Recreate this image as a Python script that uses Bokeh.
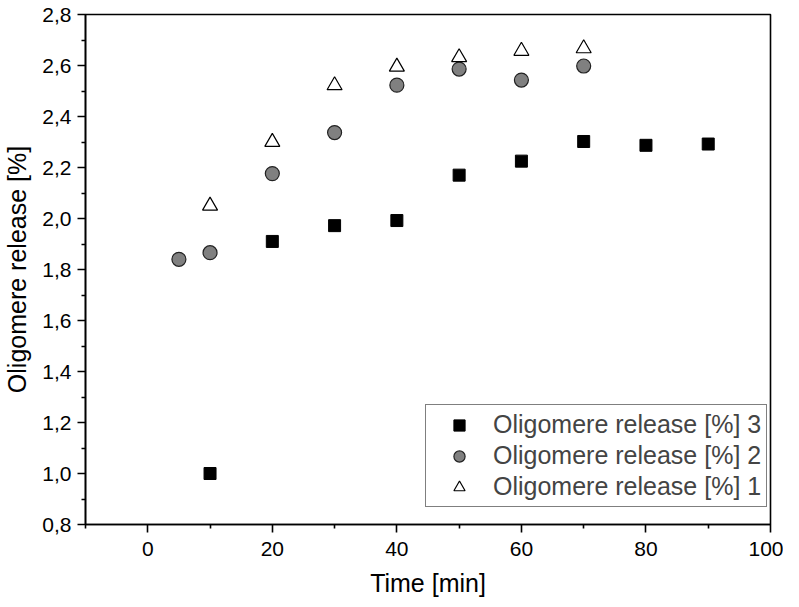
from bokeh.plotting import figure
from bokeh.models import FixedTicker, Range1d, Legend, LegendItem
from bokeh.embed import file_html
from bokeh.resources import INLINE

# Data
x3 = [10, 20, 30, 40, 50, 60, 70, 80, 90]
y3 = [1.0, 1.91, 1.972, 1.992, 2.17, 2.225, 2.302, 2.287, 2.292]
x2 = [5, 10, 20, 30, 40, 50, 60, 70]
y2 = [1.84, 1.866, 2.176, 2.337, 2.523, 2.586, 2.543, 2.598]
x1 = [10, 20, 30, 40, 50, 60, 70]
y1 = [2.05, 2.30, 2.522, 2.595, 2.632, 2.657, 2.667]
names = ["Oligomere release [%] 3", "Oligomere release [%] 2", "Oligomere release [%] 1"]
yticks = [0.8, 1.0, 1.2, 1.4, 1.6, 1.8, 2.0, 2.2, 2.4, 2.6, 2.8]
xticks = [0, 20, 40, 60, 80, 100]

FONT = "Liberation Sans"

p = figure(width=783, height=599, output_backend="svg", toolbar_location=None,
           x_range=Range1d(-10, 100), y_range=Range1d(0.8, 2.8),
           min_border_left=79, min_border_top=14, min_border_right=13, min_border_bottom=75)
p.grid.visible = False
p.outline_line_color = "black"
p.outline_line_width = 1.6

p.xaxis.ticker = FixedTicker(ticks=xticks, minor_ticks=[-10, 10, 30, 50, 70, 90])
p.yaxis.ticker = FixedTicker(ticks=yticks, minor_ticks=[0.9 + 0.2 * i for i in range(10)])
p.yaxis.major_label_overrides = {t: f"{t:.1f}".replace(".", ",") for t in yticks}
p.xaxis.major_label_overrides = {t: str(t) for t in xticks}

for ax in (p.xaxis[0], p.yaxis[0]):
    ax.axis_line_width = 1.6
    ax.major_tick_line_width = 1.6
    ax.minor_tick_line_width = 1.6
    ax.major_tick_out = 8
    ax.major_tick_in = 0
    ax.minor_tick_out = 4
    ax.minor_tick_in = 0
    ax.major_label_text_font = FONT
    ax.major_label_text_font_size = "21px"
    ax.major_label_text_color = "black"
    ax.axis_label_text_font = FONT
    ax.axis_label_text_font_size = "25px"
    ax.axis_label_text_font_style = "normal"
    ax.axis_label_text_color = "black"

p.xaxis.axis_label = "Time [min]"
p.yaxis.axis_label = "Oligomere release [%]"
p.xaxis.major_label_standoff = 9
p.yaxis.major_label_standoff = 6
p.xaxis.axis_label_standoff = 10
p.yaxis.axis_label_standoff = 8

r3 = p.scatter(x3, y3, marker="square", size=12, fill_color="black", line_color="black")
r2 = p.scatter(x2, y2, marker="circle", size=14, fill_color="#808080", line_color="#222222", line_width=1.2)
r1 = p.scatter(x1, y1, marker="triangle", size=15, fill_color="white", line_color="black", line_width=1.2)

legend = Legend(items=[LegendItem(label=names[0], renderers=[r3]),
                       LegendItem(label=names[1], renderers=[r2]),
                       LegendItem(label=names[2], renderers=[r1])],
                location=(340, 17))
legend.border_line_color = "black"
legend.border_line_width = 1
legend.label_text_font = FONT
legend.label_text_font_size = "25px"
legend.label_height = 28
legend.glyph_height = 28
legend.glyph_width = 56
legend.spacing = 2
legend.padding = 5
legend.margin = 0
legend.label_standoff = 6
legend.background_fill_alpha = 1
p.add_layout(legend, "center")

open("out.html", "w").write(file_html(p, INLINE))
